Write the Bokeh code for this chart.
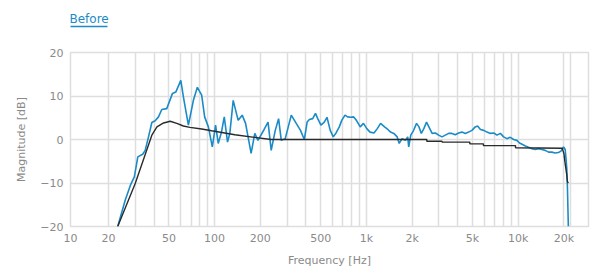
from bokeh.plotting import figure
from bokeh.models import FixedTicker, Range1d, LogAxis
from bokeh.embed import file_html
from bokeh.resources import INLINE

# ---- data ----
measured_freq = [23.0, 25.8, 27.9, 29.6, 31.2, 33.6, 34.9, 36.7, 38.6, 40.6, 42.7, 44.9, 48.4,
                 52.8, 55.5, 59.9, 62.3, 67.2, 72.5, 77, 82.2, 86, 91, 96.6, 101.5, 105.7, 111,
                 115.8, 121.7, 126, 132.6, 143, 152, 160, 174, 184, 193, 212, 225, 236, 251, 264,
                 275, 292, 320, 345, 368, 390, 407, 421, 443, 462, 478, 502, 528, 550, 578, 605,
                 631, 663, 688, 723, 752, 790, 822, 852, 883, 910, 957, 1006, 1057, 1122, 1180,
                 1240, 1317, 1384, 1443, 1516, 1595, 1645, 1720, 1808, 1872, 1900, 1960, 2040,
                 2140, 2220, 2300, 2390, 2490, 2580, 2710, 2850, 2990, 3150, 3310, 3480, 3660,
                 3850, 4050, 4260, 4480, 4710, 4960, 5210, 5400, 5640, 5930, 6230, 6560, 6900,
                 7250, 7630, 8020, 8430, 8870, 9330, 9810, 10200, 10600, 11150, 11700, 12300,
                 12950, 13620, 14330, 15060, 15840, 16660, 17520, 18430, 19200, 19890, 20400,
                 20700, 20900, 21100, 21400]
measured_db = [-20.0, -13.9, -10.5, -8.6, -4.0, -3.4, -2.5, 0.6, 3.9, 4.3, 5.2, 6.9, 7.1,
               10.6, 10.9, 13.6, 9.8, 3.3, 9.0, 12.0, 10.2, 5.2, 2.9, -1.7, 3.3, -0.9, 1.7,
               5.2, -0.6, 1.4, 9.0, 4.4, 5.6, 3.7, -3.2, 1.4, -0.2, 2.3, 4.0, -2.5, 2.1, 4.8,
               -0.2, 0.2, 5.6, 3.7, 2.1, 0.0, 4.0, 4.6, 4.8, 6.0, 4.8, 3.3, 4.0, 5.1, 2.1, 0.6,
               1.5, 2.9, 4.4, 5.6, 5.2, 5.1, 5.2, 4.6, 3.7, 2.9, 3.7, 2.5, 1.7, 1.5, 2.5,
               3.7, 2.9, 2.3, 1.7, 1.4, 0.6, -0.9, 0.2, -0.2, 0.6, -1.7, 1.0, 2.0,
               3.7, 2.9, 1.4, 2.5, 4.0, 2.9, 1.4, 1.5, 1.0, 0.6, 1.0, 1.4, 1.4,
               1.1, 1.5, 1.7, 1.4, 1.7, 2.1, 2.9, 3.1, 2.3, 2.1, 1.7, 1.4, 1.5,
               1.0, 1.4, 0.6, 0.2, 0.5, 0.0, -0.2, -0.8, -1.1, -1.5, -1.8, -2.1,
               -2.3, -2.1, -2.3, -2.5, -2.9, -2.9, -3.1, -3.0, -2.6, -1.7, -2.3,
               -4.8, -6.7, -10.9, -20.0]

target_freq = [23, 30, 38.6, 41.7, 46.1, 51, 56.4, 62.3, 68.8, 82.2, 95.6, 136, 183, 236,
               2500, 2500, 3150, 3150, 4800, 4800, 5900, 5900, 9600, 9600, 19500, 20000,
               20300, 20900, 21100, 21400]
target_db = [-20, -10.1, 1.0, 2.9, 3.8, 4.2, 3.7, 3.1, 2.8, 2.4, 2.0, 1.1, 0.5, 0.0,
             0.0, -0.4, -0.4, -0.6, -0.6, -1.0, -1.0, -1.4, -1.4, -1.9, -2.0, -3.2,
             -5.1, -8.2, -9.7, -10.0]

x_start, x_end = 11.24, 29050
x_ticks = [11.24, 20, 50, 100, 200, 500, 1000, 2000, 5000, 10000, 20000]
x_tick_labels = ["10", "20", "50", "100", "200", "500", "1k", "2k", "5k", "10k", "20k"]
x_grid = [20, 30, 40, 50, 60, 70, 80, 90, 100, 200, 300, 400, 500, 600, 700, 800, 900,
          1000, 2000, 3000, 4000, 5000, 6000, 7000, 8000, 9000, 10000, 20000, 22050]
y_ticks = [-20, -10, 0, 10, 20]
y_tick_labels = ["−20", "−10", "0", "10", "20"]
title_text = "Before"

BLUE = "#1b8bc8"
DARK = "#2a2a2a"
GRID = "#dedede"
TEXT = "#8a8a8a"
FONT = "DejaVu Sans"

p = figure(width=590, height=269, x_axis_type="log", title=title_text,
           x_range=Range1d(x_start, x_end), y_range=Range1d(-20, 20),
           output_backend="svg", toolbar_location=None,
           min_border_left=70, min_border_right=2, min_border_top=52, min_border_bottom=43)

p.line(measured_freq, measured_db, line_color=BLUE, line_width=1.6)
p.line(target_freq, target_db, line_color=DARK, line_width=1.4)

main_x = p.below[0]
main_y = p.left[0]

# invisible spacer above the frame (nearest to the frame)
spacer = LogAxis(ticker=FixedTicker(ticks=[15]), axis_line_color=None,
                 major_tick_out=26, major_tick_in=0, minor_tick_out=0, minor_tick_in=0,
                 major_tick_line_color="white", major_tick_line_alpha=0.01,
                 minor_tick_line_color=None,
                 major_label_overrides={15: ""}, major_label_text_font_size="0px",
                 major_label_standoff=0)
p.add_layout(spacer, "above")

# underline of the title
underline = LogAxis(ticker=FixedTicker(ticks=[]), bounds=(x_start, 19.7),
                    axis_line_color=BLUE, axis_line_width=1.5,
                    major_tick_out=0, major_tick_in=0, minor_tick_out=0, minor_tick_in=0,
                    major_tick_line_color=None, minor_tick_line_color=None,
                    major_label_standoff=0)
p.add_layout(underline, "above")

p.title.text_color = BLUE
p.title.text_font = FONT
p.title.text_font_size = "12px"
p.title.text_font_style = "normal"
p.title.align = "left"
p.title.offset = -1
p.title.standoff = 2

# axes
main_x.ticker = FixedTicker(ticks=x_ticks)
main_x.major_label_overrides = dict(zip(x_ticks, x_tick_labels))
main_y.ticker = FixedTicker(ticks=y_ticks)
main_y.major_label_overrides = dict(zip(y_ticks, y_tick_labels))
main_x.axis_label = "Frequency [Hz]"
main_y.axis_label = "Magnitude [dB]"
for ax in (main_x, main_y):
    ax.axis_line_color = None
    ax.major_tick_line_color = None
    ax.minor_tick_line_color = None
    ax.major_tick_out = 0
    ax.major_tick_in = 0
    ax.minor_tick_out = 0
    ax.minor_tick_in = 0
    ax.major_label_text_color = TEXT
    ax.major_label_text_font = FONT
    ax.major_label_text_font_size = "11px"
    ax.axis_label_text_color = TEXT
    ax.axis_label_text_font = FONT
    ax.axis_label_text_font_size = "11px"
    ax.axis_label_text_font_style = "normal"
main_x.major_label_standoff = 5
main_x.axis_label_standoff = 6
main_y.major_label_standoff = 7
main_y.axis_label_standoff = 9

p.xgrid.ticker = FixedTicker(ticks=x_grid)
p.ygrid.ticker = FixedTicker(ticks=[-10, 0, 10])
p.grid.grid_line_color = GRID
p.grid.grid_line_width = 1.5
p.outline_line_color = GRID
p.outline_line_width = 1.5
p.background_fill_color = "white"
p.border_fill_color = "white"

open("out.html", "w").write(file_html(p, INLINE))
